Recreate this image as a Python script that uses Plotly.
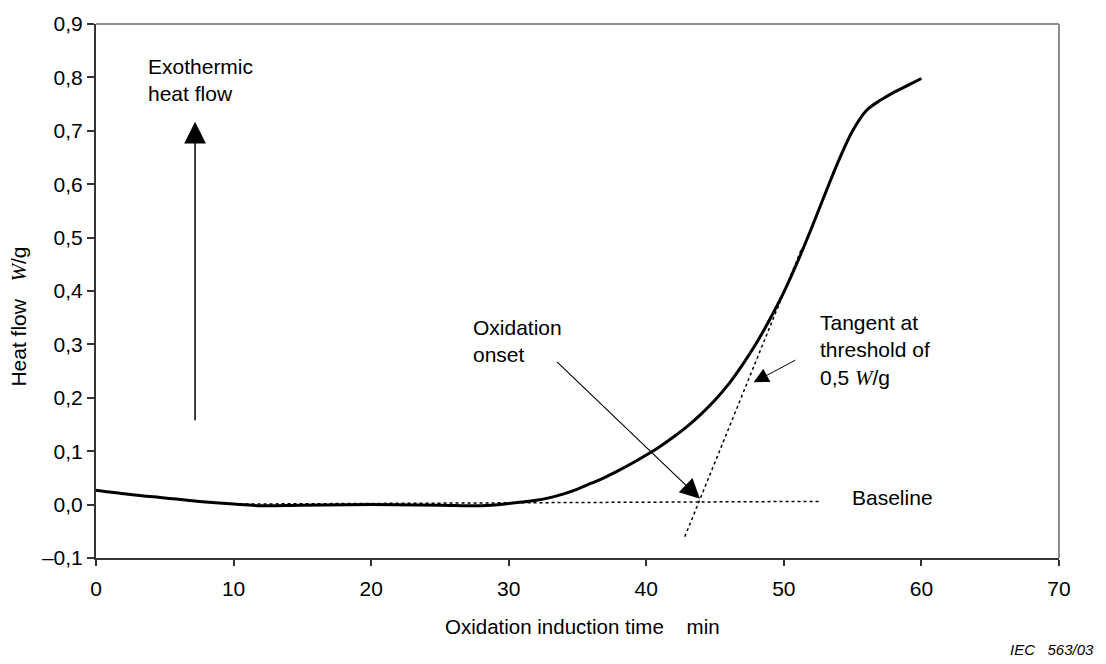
import plotly.graph_objects as go

# ---- data ----
time_min = [0, 2.5, 5, 7.5, 10, 12, 15, 20, 25, 28, 30,
            32, 33, 34, 35, 36, 37, 38, 39, 40, 41, 42, 43, 44, 45, 46,
            47, 48, 49, 50, 51, 52, 53, 54, 55, 56, 57, 58, 59, 60]
heat_flow = [0.027, 0.019, 0.0125, 0.006, 0.001, -0.002, -0.001, 0.0, -0.001, -0.002, 0.002,
             0.008, 0.013, 0.020, 0.029, 0.040, 0.051, 0.064, 0.078, 0.093, 0.109, 0.127,
             0.147, 0.170, 0.196, 0.226, 0.262, 0.302, 0.348, 0.398, 0.455, 0.517, 0.582,
             0.645, 0.700, 0.738, 0.757, 0.772, 0.785, 0.798]

baseline_x = [10, 52.6]
baseline_y = [0.001, 0.006]

tangent_x = [42.8, 51.3]
tangent_y = [-0.06, 0.48]

x_ticks = [0, 10, 20, 30, 40, 50, 60, 70]
x_ticktext = ["0", "10", "20", "30", "40", "50", "60", "70"]
y_ticks = [-0.1, 0.0, 0.1, 0.2, 0.3, 0.4, 0.5, 0.6, 0.7, 0.8, 0.9]
y_ticktext = ["\u20130,1", "0,0", "0,1", "0,2", "0,3", "0,4", "0,5", "0,6", "0,7", "0,8", "0,9"]

FONT = "Arial, 'Liberation Sans', sans-serif"
W = "<span style=\"font-family:'Liberation Serif', 'Times New Roman', serif\"><i>W</i></span>"
FS = 21

fig = go.Figure()

fig.add_trace(go.Scatter(x=baseline_x, y=baseline_y, mode="lines",
                         line=dict(color="black", width=1.5, dash="dot"),
                         hoverinfo="skip", showlegend=False))
fig.add_trace(go.Scatter(x=tangent_x, y=tangent_y, mode="lines",
                         line=dict(color="black", width=1.5, dash="dot"),
                         hoverinfo="skip", showlegend=False))
fig.add_trace(go.Scatter(x=time_min, y=heat_flow, mode="lines",
                         line=dict(color="black", width=3, shape="spline", smoothing=1.0),
                         showlegend=False))

annos = []
# Exothermic arrow
annos.append(dict(x=7.2, y=0.717, ax=7.2, ay=0.155, xref="x", yref="y", axref="x", ayref="y",
                  text="", showarrow=True, arrowhead=2, arrowsize=2.9, arrowwidth=1.5,
                  arrowcolor="black"))
# Oxidation onset arrow
annos.append(dict(x=43.9, y=0.011, ax=33.4, ay=0.27, xref="x", yref="y", axref="x", ayref="y",
                  text="", showarrow=True, arrowhead=2, arrowsize=3.6, arrowwidth=1.1,
                  arrowcolor="black"))
# Tangent arrow
annos.append(dict(x=47.8, y=0.229, ax=50.95, ay=0.272, xref="x", yref="y", axref="x", ayref="y",
                  text="", showarrow=True, arrowhead=2, arrowsize=3.0, arrowwidth=1,
                  arrowcolor="black"))

txtfont = dict(family=FONT, size=FS, color="black")
annos.append(dict(x=3.63, y=0.795, xref="x", yref="y", text="Exothermic<br>heat flow",
                  showarrow=False, xanchor="left", yanchor="middle", align="left", font=txtfont))
annos.append(dict(x=27.26, y=0.307, xref="x", yref="y", text="Oxidation<br>onset",
                  showarrow=False, xanchor="left", yanchor="middle", align="left", font=txtfont))
annos.append(dict(x=52.5, y=0.289, xref="x", yref="y",
                  text="Tangent at<br>threshold of<br>0,5 " + W + "/g",
                  showarrow=False, xanchor="left", yanchor="middle", align="left", font=txtfont))
annos.append(dict(x=54.8, y=0.0125, xref="x", yref="y", text="Baseline",
                  showarrow=False, xanchor="left", yanchor="middle", align="left", font=txtfont))

# Axis titles
annos.append(dict(x=0.505, y=-0.129, xref="paper", yref="paper",
                  text="Oxidation induction time\u00a0\u00a0\u00a0\u00a0min",
                  showarrow=False, xanchor="center", yanchor="middle",
                  font=dict(family=FONT, size=20.5, color="black")))
annos.append(dict(x=-0.08, y=0.452, xref="paper", yref="paper",
                  text="Heat flow\u00a0\u00a0\u00a0" + W + "/g", textangle=-90,
                  showarrow=False, xanchor="center", yanchor="middle", font=txtfont))
# IEC reference
annos.append(dict(x=1.038, y=-0.172, xref="paper", yref="paper",
                  text="<i>IEC\u00a0\u00a0\u00a0563/03</i>",
                  showarrow=False, xanchor="right", yanchor="middle",
                  font=dict(family=FONT, size=15, color="black")))

shapes = [
    dict(type="line", xref="paper", yref="paper", x0=0, x1=1, y0=1, y1=1,
         line=dict(color="#8c8c8c", width=2)),
    dict(type="line", xref="paper", yref="paper", x0=1, x1=1, y0=0, y1=1,
         line=dict(color="#8c8c8c", width=2)),
]

fig.update_layout(
    width=1106, height=664,
    margin=dict(l=96, r=47, t=16, b=106),
    paper_bgcolor="white", plot_bgcolor="white",
    font=dict(family=FONT, size=FS, color="black"),
    annotations=annos, shapes=shapes, showlegend=False,
    xaxis=dict(range=[0, 70], tickvals=x_ticks, ticktext=x_ticktext,
               showgrid=False, zeroline=False, showline=True, linecolor="#333333", linewidth=2,
               ticks="outside", ticklen=6, tickcolor="#333333", tickwidth=1.5,
               ticklabelstandoff=5,
               tickfont=dict(family=FONT, size=FS, color="black")),
    yaxis=dict(range=[-0.1, 0.9], tickvals=y_ticks, ticktext=y_ticktext,
               showgrid=False, zeroline=False, showline=True, linecolor="#333333", linewidth=2,
               ticks="outside", ticklen=7, tickcolor="#333333", tickwidth=1.5,
               tickfont=dict(family=FONT, size=FS, color="black")),
)

fig.write_html("out.html")
